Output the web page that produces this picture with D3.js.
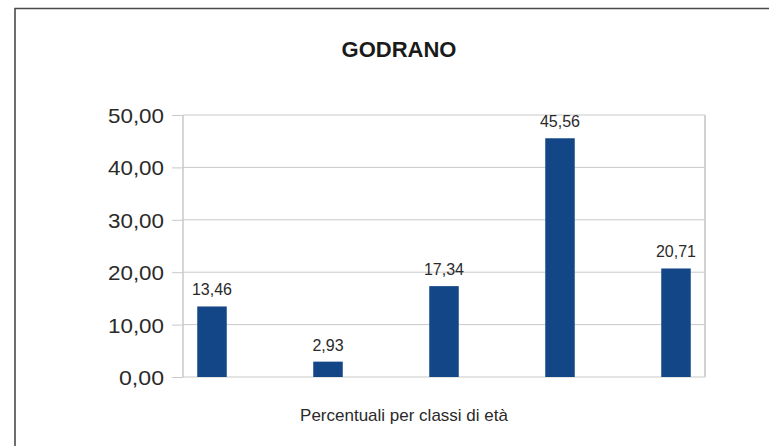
<!DOCTYPE html>
<html>
<head>
<meta charset="utf-8">
<script src="https://cdn.jsdelivr.net/npm/d3@7"></script>
<style>
  html, body { margin: 0; padding: 0; background: #fff; }
  svg { display: block; }
  text { font-family: "Liberation Sans", Arial, sans-serif; }
</style>
</head>
<body>
<svg id="chart" width="769" height="446"></svg>
<script>
// Percentuali per classi di età — Godrano
const title = "GODRANO";
const axisTitle = "Percentuali per classi di età";
const categories = ["c1", "c2", "c3", "c4", "c5"];
const values = [13.46, 2.93, 17.34, 45.56, 20.71];
const yTicks = [0, 10, 20, 30, 40, 50];

const fmt = v => d3.format(".2f")(v).replace(".", ",");

const svg = d3.select("#chart");
const W = 769, H = 446;
const plot = { left: 183, right: 705, top: 115, bottom: 377 };

svg.append("rect").attr("width", W).attr("height", H).attr("fill", "#fff");

// outer frame (extends past the right and bottom edges)
svg.append("path")
  .attr("d", `M15,${H + 5} V8.5 H${W + 5}`)
  .attr("fill", "none").attr("stroke", "#4a4a4a").attr("stroke-width", 1.6);

const x = d3.scalePoint().domain(categories).range([plot.left, plot.right]).padding(0.25);
const y = d3.scaleLinear().domain([0, 50]).range([plot.bottom, plot.top]);
const barW = 29.5;

// horizontal grid lines
svg.append("g").selectAll("line").data(yTicks).join("line")
  .attr("x1", plot.left).attr("x2", plot.right)
  .attr("y1", d => y(d)).attr("y2", d => y(d))
  .attr("stroke", "#c9c9c9").attr("stroke-width", 1);

// y axis with outward ticks
const yAxis = d3.axisLeft(y).tickValues(yTicks).tickSize(11).tickPadding(8).tickFormat(fmt);
const gy = svg.append("g").attr("transform", `translate(${plot.left},0)`).call(yAxis);
gy.select(".domain").remove();
gy.selectAll(".tick line").attr("stroke", "#c9c9c9");
gy.selectAll(".tick text")
  .attr("fill", "#2a2a2a")
  .attr("dy", "0.36em")
  .attr("textLength", d => d >= 10 ? 56 : 45)
  .attr("lengthAdjust", "spacingAndGlyphs")
  .style("font-family", '"Liberation Sans", Arial, sans-serif')
  .style("font-size", "21px");

// plot frame sides
svg.append("line").attr("x1", plot.left).attr("x2", plot.left)
  .attr("y1", plot.top).attr("y2", plot.bottom).attr("stroke", "#c9c9c9").attr("stroke-width", 1.5);
svg.append("line").attr("x1", plot.right).attr("x2", plot.right)
  .attr("y1", plot.top).attr("y2", plot.bottom).attr("stroke", "#d2d2d2").attr("stroke-width", 2);

// bars
svg.append("g").selectAll("rect").data(values).join("rect")
  .attr("x", (d, i) => x(categories[i]) - barW / 2)
  .attr("y", d => y(d))
  .attr("width", barW)
  .attr("height", d => y(0) - y(d))
  .attr("fill", "#134686");

// value labels
svg.append("g").selectAll("text").data(values).join("text")
  .attr("x", (d, i) => x(categories[i]))
  .attr("y", d => y(d) - 11)
  .attr("text-anchor", "middle")
  .attr("fill", "#2a2a2a")
  .style("font-size", "16px")
  .text(fmt);

// title
svg.append("text").attr("x", 399).attr("y", 57)
  .attr("text-anchor", "middle").attr("fill", "#1a1a1a")
  .style("font-size", "22px").style("font-weight", "bold")
  .text(title);

// category axis title
svg.append("text").attr("x", 404).attr("y", 420.5)
  .attr("text-anchor", "middle").attr("fill", "#2a2a2a")
  .style("font-size", "17px")
  .text(axisTitle);
</script>
</body>
</html>
